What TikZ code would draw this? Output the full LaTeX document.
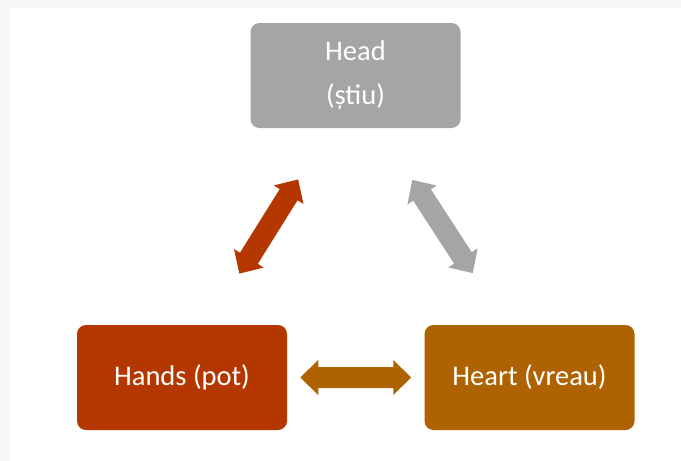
\documentclass[tikz,border=0pt]{standalone}
\usepackage{fontspec}
\setmainfont{Carlito}
\usetikzlibrary{calc}
\definecolor{headgray}{HTML}{A5A5A5}
\definecolor{handsred}{HTML}{B43700}
\definecolor{heartorange}{HTML}{AF6300}
\definecolor{pagebg}{HTML}{F5F6F8}
\begin{document}
\begin{tikzpicture}[x=1pt,y=-1pt,
  box/.style={rounded corners=9pt, minimum width=210pt, minimum height=105pt,
    inner sep=0pt, text=white, font=\fontsize{28.5}{44}\selectfont, align=center},
  dblarrow/.pic={\path[pic actions] (-55.5,0) -- (-37.5,-17.5) -- (-37.5,-10.5)
    -- (37.5,-10.5) -- (37.5,-17.5) -- (55.5,0) -- (37.5,17.5) -- (37.5,10.5)
    -- (-37.5,10.5) -- (-37.5,17.5) -- cycle;}]
  % page background and white slide area
  \fill[pagebg] (0,0) rectangle (681,461);
  \fill[white] (10,8) rectangle (681,461);
  \useasboundingbox (0,0) rectangle (681,461);

  % the three boxes
  \node[box, fill=headgray] (head) at (355.5,75.5) {Head\\(știu)};
  \node[box, fill=handsred] (hands) at (182,377.5) {Hands (pot)};
  \node[box, fill=heartorange] (heart) at (529.5,377.5) {Heart (vreau)};

  % two-headed block arrows between the boxes
  \pic[fill=handsred, rotate=58] at ($(hands)!0.5!(head)$) {dblarrow};
  \pic[fill=headgray, rotate=-57] at ($(head)!0.5!(heart)$) {dblarrow};
  \pic[fill=heartorange] at ($(hands)!0.5!(heart)$) {dblarrow};
\end{tikzpicture}
\end{document}
